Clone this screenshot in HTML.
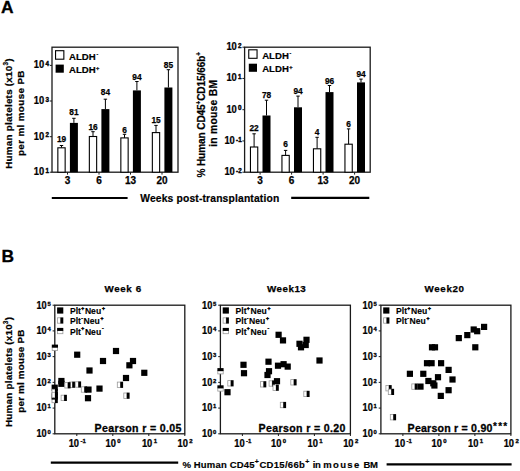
<!DOCTYPE html>
<html><head><meta charset="utf-8"><style>
html,body{margin:0;padding:0;background:#fff;}
svg{display:block;}
text{font-family:"Liberation Sans",sans-serif;font-weight:bold;fill:#000;stroke:#000;}
</style></head><body>
<svg width="520" height="471" viewBox="0 0 520 471">
<rect width="520" height="471" fill="#fff"/>
<text x="1.0" y="13.4" font-size="17.4" stroke-width="0.3">A</text>
<text x="1.6" y="261.8" font-size="17.4" stroke-width="0.3">B</text>
<rect x="52.0" y="47.2" width="126.0" height="124.99999999999999" fill="none" stroke="#1a1a1a" stroke-width="1.3"/>
<line x1="49.8" y1="172.2" x2="52.0" y2="172.2" stroke="#1a1a1a" stroke-width="1.0"/>
<text transform="translate(44.2,175.1) scale(0.9,1)" font-size="10.4" text-anchor="end" stroke-width="0.25">10</text>
<text x="45.5" y="172.79999999999998" font-size="6.3" stroke-width="0.38">1</text>
<line x1="49.8" y1="136.7" x2="52.0" y2="136.7" stroke="#1a1a1a" stroke-width="1.0"/>
<text transform="translate(44.2,139.6) scale(0.9,1)" font-size="10.4" text-anchor="end" stroke-width="0.25">10</text>
<text x="45.5" y="137.29999999999998" font-size="6.3" stroke-width="0.38">2</text>
<line x1="49.8" y1="101.0" x2="52.0" y2="101.0" stroke="#1a1a1a" stroke-width="1.0"/>
<text transform="translate(44.2,103.9) scale(0.9,1)" font-size="10.4" text-anchor="end" stroke-width="0.25">10</text>
<text x="45.5" y="101.6" font-size="6.3" stroke-width="0.38">3</text>
<line x1="49.8" y1="65.4" x2="52.0" y2="65.4" stroke="#1a1a1a" stroke-width="1.0"/>
<text transform="translate(44.2,68.30000000000001) scale(0.9,1)" font-size="10.4" text-anchor="end" stroke-width="0.25">10</text>
<text x="45.5" y="66.0" font-size="6.3" stroke-width="0.38">4</text>
<line x1="67.5" y1="172.2" x2="67.5" y2="174.6" stroke="#1a1a1a" stroke-width="1.0"/>
<text x="67.5" y="184.2" font-size="10.0" text-anchor="middle" stroke-width="0.25">3</text>
<line x1="99.0" y1="172.2" x2="99.0" y2="174.6" stroke="#1a1a1a" stroke-width="1.0"/>
<text x="99.0" y="184.2" font-size="10.0" text-anchor="middle" stroke-width="0.25">6</text>
<line x1="130.5" y1="172.2" x2="130.5" y2="174.6" stroke="#1a1a1a" stroke-width="1.0"/>
<text x="130.5" y="184.2" font-size="10.0" text-anchor="middle" stroke-width="0.25">13</text>
<line x1="162.0" y1="172.2" x2="162.0" y2="174.6" stroke="#1a1a1a" stroke-width="1.0"/>
<text x="162.0" y="184.2" font-size="10.0" text-anchor="middle" stroke-width="0.25">20</text>
<line x1="61.5" y1="145.5" x2="61.5" y2="147.8" stroke="#000" stroke-width="1.0"/>
<line x1="59.8" y1="145.5" x2="63.2" y2="145.5" stroke="#000" stroke-width="1.0"/>
<rect x="57.85" y="147.80" width="7.30" height="24.40" fill="#fff" stroke="#000" stroke-width="1.1"/>
<text x="61.5" y="142.0" font-size="8.3" text-anchor="middle" stroke-width="0.25">19</text>
<line x1="73.9" y1="118.3" x2="73.9" y2="122.9" stroke="#000" stroke-width="1.0"/>
<line x1="72.2" y1="118.3" x2="75.60000000000001" y2="118.3" stroke="#000" stroke-width="1.0"/>
<rect x="69.90" y="122.90" width="8.00" height="49.30" fill="#000"/>
<text x="73.9" y="114.8" font-size="8.3" text-anchor="middle" stroke-width="0.25">81</text>
<line x1="93.0" y1="131.7" x2="93.0" y2="136.5" stroke="#000" stroke-width="1.0"/>
<line x1="91.3" y1="131.7" x2="94.7" y2="131.7" stroke="#000" stroke-width="1.0"/>
<rect x="89.35" y="136.50" width="7.30" height="35.70" fill="#fff" stroke="#000" stroke-width="1.1"/>
<text x="93.0" y="129.5" font-size="8.3" text-anchor="middle" stroke-width="0.25">16</text>
<line x1="105.4" y1="99.2" x2="105.4" y2="109.1" stroke="#000" stroke-width="1.0"/>
<line x1="103.7" y1="99.2" x2="107.10000000000001" y2="99.2" stroke="#000" stroke-width="1.0"/>
<rect x="101.40" y="109.10" width="8.00" height="63.10" fill="#000"/>
<text x="105.4" y="95.2" font-size="8.3" text-anchor="middle" stroke-width="0.25">84</text>
<line x1="124.5" y1="134.3" x2="124.5" y2="137.9" stroke="#000" stroke-width="1.0"/>
<line x1="122.8" y1="134.3" x2="126.2" y2="134.3" stroke="#000" stroke-width="1.0"/>
<rect x="120.85" y="137.90" width="7.30" height="34.30" fill="#fff" stroke="#000" stroke-width="1.1"/>
<text x="124.5" y="133.0" font-size="8.3" text-anchor="middle" stroke-width="0.25">6</text>
<line x1="136.9" y1="81.5" x2="136.9" y2="90.4" stroke="#000" stroke-width="1.0"/>
<line x1="135.20000000000002" y1="81.5" x2="138.6" y2="81.5" stroke="#000" stroke-width="1.0"/>
<rect x="132.90" y="90.40" width="8.00" height="81.80" fill="#000"/>
<text x="136.9" y="79.9" font-size="8.3" text-anchor="middle" stroke-width="0.25">94</text>
<line x1="156.0" y1="125.4" x2="156.0" y2="132.6" stroke="#000" stroke-width="1.0"/>
<line x1="154.3" y1="125.4" x2="157.7" y2="125.4" stroke="#000" stroke-width="1.0"/>
<rect x="152.35" y="132.60" width="7.30" height="39.60" fill="#fff" stroke="#000" stroke-width="1.1"/>
<text x="156.0" y="123.3" font-size="8.3" text-anchor="middle" stroke-width="0.25">15</text>
<line x1="168.4" y1="69.7" x2="168.4" y2="87.5" stroke="#000" stroke-width="1.0"/>
<line x1="166.70000000000002" y1="69.7" x2="170.1" y2="69.7" stroke="#000" stroke-width="1.0"/>
<rect x="164.40" y="87.50" width="8.00" height="84.70" fill="#000"/>
<text x="168.4" y="68.0" font-size="8.3" text-anchor="middle" stroke-width="0.25">85</text>
<rect x="55.55" y="50.70" width="8.3" height="8.5" fill="#fff" stroke="#000" stroke-width="1.1"/>
<rect x="55.60" y="64.60" width="8.20" height="8.10" fill="#000"/>
<text x="69.0" y="59.6" font-size="9.6" stroke-width="0.18">ALDH</text>
<text x="69.0" y="73.2" font-size="9.6" stroke-width="0.18">ALDH</text>
<text x="96.4" y="56.2" font-size="5.2" stroke-width="0.1">-</text>
<text x="96.0" y="69.9" font-size="5.6" stroke-width="0.25">+</text>
<rect x="244.6" y="47.2" width="125.6" height="124.99999999999999" fill="none" stroke="#1a1a1a" stroke-width="1.3"/>
<line x1="242.4" y1="172.2" x2="244.6" y2="172.2" stroke="#1a1a1a" stroke-width="1.0"/>
<text transform="translate(234.79999999999998,175.1) scale(0.9,1)" font-size="10.4" text-anchor="end" stroke-width="0.25">10</text>
<text x="236.1" y="172.79999999999998" font-size="6.3" stroke-width="0.38">-2</text>
<line x1="242.4" y1="140.95" x2="244.6" y2="140.95" stroke="#1a1a1a" stroke-width="1.0"/>
<text transform="translate(234.79999999999998,143.85) scale(0.9,1)" font-size="10.4" text-anchor="end" stroke-width="0.25">10</text>
<text x="236.1" y="141.54999999999998" font-size="6.3" stroke-width="0.38">-1</text>
<line x1="242.4" y1="109.7" x2="244.6" y2="109.7" stroke="#1a1a1a" stroke-width="1.0"/>
<text transform="translate(236.79999999999998,112.60000000000001) scale(0.9,1)" font-size="10.4" text-anchor="end" stroke-width="0.25">10</text>
<text x="238.1" y="110.3" font-size="6.3" stroke-width="0.38">0</text>
<line x1="242.4" y1="78.45" x2="244.6" y2="78.45" stroke="#1a1a1a" stroke-width="1.0"/>
<text transform="translate(236.79999999999998,81.35000000000001) scale(0.9,1)" font-size="10.4" text-anchor="end" stroke-width="0.25">10</text>
<text x="238.1" y="79.05" font-size="6.3" stroke-width="0.38">1</text>
<line x1="242.4" y1="47.2" x2="244.6" y2="47.2" stroke="#1a1a1a" stroke-width="1.0"/>
<text transform="translate(236.79999999999998,50.1) scale(0.9,1)" font-size="10.4" text-anchor="end" stroke-width="0.25">10</text>
<text x="238.1" y="47.800000000000004" font-size="6.3" stroke-width="0.38">2</text>
<line x1="260.1" y1="172.2" x2="260.1" y2="174.6" stroke="#1a1a1a" stroke-width="1.0"/>
<text x="260.1" y="184.2" font-size="10.0" text-anchor="middle" stroke-width="0.25">3</text>
<line x1="291.6" y1="172.2" x2="291.6" y2="174.6" stroke="#1a1a1a" stroke-width="1.0"/>
<text x="291.6" y="184.2" font-size="10.0" text-anchor="middle" stroke-width="0.25">6</text>
<line x1="323.1" y1="172.2" x2="323.1" y2="174.6" stroke="#1a1a1a" stroke-width="1.0"/>
<text x="323.1" y="184.2" font-size="10.0" text-anchor="middle" stroke-width="0.25">13</text>
<line x1="354.6" y1="172.2" x2="354.6" y2="174.6" stroke="#1a1a1a" stroke-width="1.0"/>
<text x="354.6" y="184.2" font-size="10.0" text-anchor="middle" stroke-width="0.25">20</text>
<line x1="254.10000000000002" y1="133.8" x2="254.10000000000002" y2="147" stroke="#000" stroke-width="1.0"/>
<line x1="252.40000000000003" y1="133.8" x2="255.8" y2="133.8" stroke="#000" stroke-width="1.0"/>
<rect x="250.45" y="147.00" width="7.30" height="25.20" fill="#fff" stroke="#000" stroke-width="1.1"/>
<text x="254.10000000000002" y="131.4" font-size="8.3" text-anchor="middle" stroke-width="0.25">22</text>
<line x1="266.5" y1="100.2" x2="266.5" y2="115.5" stroke="#000" stroke-width="1.0"/>
<line x1="264.8" y1="100.2" x2="268.2" y2="100.2" stroke="#000" stroke-width="1.0"/>
<rect x="262.50" y="115.50" width="8.00" height="56.70" fill="#000"/>
<text x="266.5" y="98.3" font-size="8.3" text-anchor="middle" stroke-width="0.25">78</text>
<line x1="285.6" y1="150.4" x2="285.6" y2="155.4" stroke="#000" stroke-width="1.0"/>
<line x1="283.90000000000003" y1="150.4" x2="287.3" y2="150.4" stroke="#000" stroke-width="1.0"/>
<rect x="281.95" y="155.40" width="7.30" height="16.80" fill="#fff" stroke="#000" stroke-width="1.1"/>
<text x="285.6" y="147.3" font-size="8.3" text-anchor="middle" stroke-width="0.25">6</text>
<line x1="298.0" y1="96.1" x2="298.0" y2="107.3" stroke="#000" stroke-width="1.0"/>
<line x1="296.3" y1="96.1" x2="299.7" y2="96.1" stroke="#000" stroke-width="1.0"/>
<rect x="294.00" y="107.30" width="8.00" height="64.90" fill="#000"/>
<text x="298.0" y="93.8" font-size="8.3" text-anchor="middle" stroke-width="0.25">94</text>
<line x1="317.1" y1="137.3" x2="317.1" y2="148.8" stroke="#000" stroke-width="1.0"/>
<line x1="315.40000000000003" y1="137.3" x2="318.8" y2="137.3" stroke="#000" stroke-width="1.0"/>
<rect x="313.45" y="148.80" width="7.30" height="23.40" fill="#fff" stroke="#000" stroke-width="1.1"/>
<text x="317.1" y="134.5" font-size="8.3" text-anchor="middle" stroke-width="0.25">4</text>
<line x1="329.5" y1="85.5" x2="329.5" y2="92.1" stroke="#000" stroke-width="1.0"/>
<line x1="327.8" y1="85.5" x2="331.2" y2="85.5" stroke="#000" stroke-width="1.0"/>
<rect x="325.50" y="92.10" width="8.00" height="80.10" fill="#000"/>
<text x="329.5" y="84.0" font-size="8.3" text-anchor="middle" stroke-width="0.25">96</text>
<line x1="348.6" y1="128.9" x2="348.6" y2="144.2" stroke="#000" stroke-width="1.0"/>
<line x1="346.90000000000003" y1="128.9" x2="350.3" y2="128.9" stroke="#000" stroke-width="1.0"/>
<rect x="344.95" y="144.20" width="7.30" height="28.00" fill="#fff" stroke="#000" stroke-width="1.1"/>
<text x="348.6" y="126.5" font-size="8.3" text-anchor="middle" stroke-width="0.25">6</text>
<line x1="361.0" y1="79.1" x2="361.0" y2="82.4" stroke="#000" stroke-width="1.0"/>
<line x1="359.3" y1="79.1" x2="362.7" y2="79.1" stroke="#000" stroke-width="1.0"/>
<rect x="357.00" y="82.40" width="8.00" height="89.80" fill="#000"/>
<text x="361.0" y="77.1" font-size="8.3" text-anchor="middle" stroke-width="0.25">94</text>
<rect x="248.75" y="49.80" width="8.3" height="8.5" fill="#fff" stroke="#000" stroke-width="1.1"/>
<rect x="248.80" y="63.70" width="8.20" height="8.10" fill="#000"/>
<text x="262.2" y="58.7" font-size="9.6" stroke-width="0.18">ALDH</text>
<text x="262.2" y="72.3" font-size="9.6" stroke-width="0.18">ALDH</text>
<text x="289.59999999999997" y="55.300000000000004" font-size="5.2" stroke-width="0.1">-</text>
<text x="289.2" y="69.0" font-size="5.6" stroke-width="0.25">+</text>
<text transform="translate(11.9,113.6) rotate(-90)" font-size="9.9" text-anchor="middle" textLength="110.5" lengthAdjust="spacing" stroke-width="0.22">Human platelets (x10<tspan font-size="6.5" dy="-4.2">3</tspan><tspan dy="4.2">)</tspan></text>
<text transform="translate(24.2,113.3) rotate(-90)" font-size="9.9" text-anchor="middle" textLength="85.6" lengthAdjust="spacing" stroke-width="0.22">per ml mouse PB</text>
<text transform="translate(204.9,177.6) rotate(-90)" font-size="10.1" text-anchor="start" textLength="125.5" lengthAdjust="spacing" stroke-width="0.22">% Human CD45<tspan font-size="6.3" dy="-4.2">+</tspan><tspan dy="4.2">CD15/66b</tspan><tspan font-size="6.3" dy="-4.2">+</tspan></text>
<text transform="translate(217.1,146.8) rotate(-90)" font-size="10.3" text-anchor="start" textLength="66.8" lengthAdjust="spacing" stroke-width="0.22">in mouse BM</text>
<line x1="51.8" y1="198.0" x2="127.6" y2="198.0" stroke="#000" stroke-width="2.1"/>
<line x1="291.2" y1="197.9" x2="369.3" y2="197.9" stroke="#000" stroke-width="2.1"/>
<text x="140.2" y="201.6" font-size="10.3" textLength="139.0" lengthAdjust="spacing" stroke-width="0.2">Weeks post-transplantation</text>
<rect x="54.8" y="305.2" width="130.00" height="128.60" fill="none" stroke="#1a1a1a" stroke-width="1.3"/>
<line x1="52.599999999999994" y1="433.8" x2="54.8" y2="433.8" stroke="#1a1a1a" stroke-width="1.0"/>
<text transform="translate(46.699999999999996,437.2) scale(0.9,1)" font-size="10.2" text-anchor="end" stroke-width="0.25">10</text>
<text x="47.5" y="434.1" font-size="5.9" stroke-width="0.3">0</text>
<line x1="52.599999999999994" y1="408.08000000000004" x2="54.8" y2="408.08000000000004" stroke="#1a1a1a" stroke-width="1.0"/>
<text transform="translate(46.699999999999996,411.48) scale(0.9,1)" font-size="10.2" text-anchor="end" stroke-width="0.25">10</text>
<text x="47.5" y="408.38000000000005" font-size="5.9" stroke-width="0.3">1</text>
<line x1="52.599999999999994" y1="382.36" x2="54.8" y2="382.36" stroke="#1a1a1a" stroke-width="1.0"/>
<text transform="translate(46.699999999999996,385.76) scale(0.9,1)" font-size="10.2" text-anchor="end" stroke-width="0.25">10</text>
<text x="47.5" y="382.66" font-size="5.9" stroke-width="0.3">2</text>
<line x1="52.599999999999994" y1="356.64" x2="54.8" y2="356.64" stroke="#1a1a1a" stroke-width="1.0"/>
<text transform="translate(46.699999999999996,360.03999999999996) scale(0.9,1)" font-size="10.2" text-anchor="end" stroke-width="0.25">10</text>
<text x="47.5" y="356.94" font-size="5.9" stroke-width="0.3">3</text>
<line x1="52.599999999999994" y1="330.92" x2="54.8" y2="330.92" stroke="#1a1a1a" stroke-width="1.0"/>
<text transform="translate(46.699999999999996,334.32) scale(0.9,1)" font-size="10.2" text-anchor="end" stroke-width="0.25">10</text>
<text x="47.5" y="331.22" font-size="5.9" stroke-width="0.3">4</text>
<line x1="52.599999999999994" y1="305.20000000000005" x2="54.8" y2="305.20000000000005" stroke="#1a1a1a" stroke-width="1.0"/>
<text transform="translate(46.699999999999996,308.6) scale(0.9,1)" font-size="10.2" text-anchor="end" stroke-width="0.25">10</text>
<text x="47.5" y="305.50000000000006" font-size="5.9" stroke-width="0.3">5</text>
<line x1="76.8" y1="433.8" x2="76.8" y2="436.0" stroke="#1a1a1a" stroke-width="1.0"/>
<text transform="translate(79.05,446.9) scale(0.9,1)" font-size="10.4" text-anchor="end" stroke-width="0.25">10</text>
<text x="80.45" y="443.4" font-size="6.0" stroke-width="0.3">-1</text>
<line x1="112.8" y1="433.8" x2="112.8" y2="436.0" stroke="#1a1a1a" stroke-width="1.0"/>
<text transform="translate(115.85,446.9) scale(0.9,1)" font-size="10.4" text-anchor="end" stroke-width="0.25">10</text>
<text x="117.25" y="443.4" font-size="6.0" stroke-width="0.3">0</text>
<line x1="148.8" y1="433.8" x2="148.8" y2="436.0" stroke="#1a1a1a" stroke-width="1.0"/>
<text transform="translate(152.3,446.9) scale(0.9,1)" font-size="10.4" text-anchor="end" stroke-width="0.25">10</text>
<text x="153.70000000000002" y="443.4" font-size="6.0" stroke-width="0.3">1</text>
<line x1="184.8" y1="433.8" x2="184.8" y2="436.0" stroke="#1a1a1a" stroke-width="1.0"/>
<text transform="translate(187.95000000000002,446.9) scale(0.9,1)" font-size="10.4" text-anchor="end" stroke-width="0.25">10</text>
<text x="189.35000000000002" y="443.4" font-size="6.0" stroke-width="0.3">2</text>
<text x="104.6" y="291.5" font-size="9.8" textLength="36.6" lengthAdjust="spacing" stroke-width="0.25">Week 6</text>
<rect x="52.20" y="347.30" width="5.40" height="3.10" fill="#fff" stroke="#999" stroke-width="0.8"/>
<rect x="51.80" y="344.60" width="6.20" height="3.00" fill="#000"/>
<rect x="74.10" y="351.60" width="6.20" height="6.20" fill="#000"/>
<rect x="112.90" y="347.90" width="6.20" height="6.20" fill="#000"/>
<rect x="99.90" y="357.90" width="6.20" height="6.20" fill="#000"/>
<rect x="129.90" y="357.90" width="6.20" height="6.20" fill="#000"/>
<rect x="126.30" y="362.20" width="6.20" height="6.20" fill="#000"/>
<rect x="86.40" y="367.40" width="6.20" height="6.20" fill="#000"/>
<rect x="141.20" y="369.70" width="6.20" height="6.20" fill="#000"/>
<rect x="122.90" y="374.90" width="6.20" height="6.20" fill="#000"/>
<rect x="58.30" y="377.90" width="6.20" height="6.20" fill="#000"/>
<rect x="58.30" y="380.70" width="6.20" height="6.20" fill="#000"/>
<rect x="96.40" y="385.50" width="6.20" height="6.20" fill="#000"/>
<rect x="69.30" y="382.00" width="3.10" height="5.40" fill="#fff" stroke="#999" stroke-width="0.8"/>
<rect x="72.30" y="381.60" width="2.80" height="6.20" fill="#000"/>
<rect x="64.80" y="382.60" width="3.10" height="5.40" fill="#fff" stroke="#999" stroke-width="0.8"/>
<rect x="67.80" y="382.20" width="2.80" height="6.20" fill="#000"/>
<rect x="75.30" y="381.80" width="3.10" height="5.40" fill="#fff" stroke="#999" stroke-width="0.8"/>
<rect x="78.30" y="381.40" width="2.80" height="6.20" fill="#000"/>
<rect x="81.30" y="386.80" width="3.10" height="5.40" fill="#fff" stroke="#999" stroke-width="0.8"/>
<rect x="84.30" y="386.40" width="2.80" height="6.20" fill="#000"/>
<rect x="85.40" y="386.50" width="6.20" height="6.20" fill="#000"/>
<rect x="84.90" y="395.10" width="6.20" height="6.20" fill="#000"/>
<rect x="61.10" y="395.20" width="3.10" height="5.40" fill="#fff" stroke="#999" stroke-width="0.8"/>
<rect x="64.10" y="394.80" width="2.80" height="6.20" fill="#000"/>
<rect x="117.30" y="382.10" width="3.10" height="5.40" fill="#fff" stroke="#999" stroke-width="0.8"/>
<rect x="120.30" y="381.70" width="2.80" height="6.20" fill="#000"/>
<rect x="123.80" y="393.00" width="3.10" height="5.40" fill="#fff" stroke="#999" stroke-width="0.8"/>
<rect x="126.80" y="392.60" width="2.80" height="6.20" fill="#000"/>
<rect x="51.60" y="384.60" width="6.20" height="6.20" fill="#000"/>
<rect x="52.00" y="397.30" width="3.10" height="5.40" fill="#fff" stroke="#999" stroke-width="0.8"/>
<rect x="55.00" y="396.90" width="2.80" height="6.20" fill="#000"/>
<rect x="51.60" y="393.40" width="6.20" height="6.20" fill="#000"/>
<rect x="52.00" y="389.30" width="3.10" height="5.40" fill="#fff" stroke="#999" stroke-width="0.8"/>
<rect x="55.00" y="388.90" width="2.80" height="6.20" fill="#000"/>
<rect x="52.00" y="392.30" width="3.10" height="5.40" fill="#fff" stroke="#999" stroke-width="0.8"/>
<rect x="55.00" y="391.90" width="2.80" height="6.20" fill="#000"/>
<rect x="57.10" y="307.40" width="6.20" height="6.20" fill="#000"/>
<text transform="translate(70.0,314.2) scale(1.0,1)" font-size="8.6" stroke-width="0.12">Plt</text>
<text x="81.2" y="309.9" font-size="5.0" stroke-width="0.4">+</text>
<text transform="translate(84.9,314.2) scale(1.0,1)" font-size="8.6" stroke-width="0.12">Neu</text>
<text x="101.9" y="309.9" font-size="5.0" stroke-width="0.4">+</text>
<rect x="57.50" y="317.80" width="3.10" height="5.40" fill="#fff" stroke="#999" stroke-width="0.8"/>
<rect x="60.50" y="317.40" width="2.80" height="6.20" fill="#000"/>
<text transform="translate(70.0,324.3) scale(1.0,1)" font-size="8.6" stroke-width="0.12">Plt</text>
<text x="81.2" y="320.0" font-size="5.0" stroke-width="0.4">-</text>
<text transform="translate(83.5,324.3) scale(1.0,1)" font-size="8.6" stroke-width="0.12">Neu</text>
<text x="100.5" y="320.0" font-size="5.0" stroke-width="0.4">+</text>
<rect x="57.50" y="330.60" width="5.40" height="3.10" fill="#fff" stroke="#999" stroke-width="0.8"/>
<rect x="57.10" y="327.90" width="6.20" height="3.00" fill="#000"/>
<text transform="translate(70.0,334.7) scale(1.0,1)" font-size="8.6" stroke-width="0.12">Plt</text>
<text x="81.2" y="330.4" font-size="5.0" stroke-width="0.4">+</text>
<text transform="translate(84.9,334.7) scale(1.0,1)" font-size="8.6" stroke-width="0.12">Neu</text>
<text x="101.9" y="330.4" font-size="5.0" stroke-width="0.4">-</text>
<text x="94.6" y="431.9" font-size="10.6" textLength="86.8" lengthAdjust="spacing" stroke-width="0.3">Pearson r = 0.05</text>
<rect x="220.4" y="305.2" width="130.00" height="128.60" fill="none" stroke="#1a1a1a" stroke-width="1.3"/>
<line x1="218.20000000000002" y1="433.8" x2="220.4" y2="433.8" stroke="#1a1a1a" stroke-width="1.0"/>
<text transform="translate(212.3,437.2) scale(0.9,1)" font-size="10.2" text-anchor="end" stroke-width="0.25">10</text>
<text x="213.1" y="434.1" font-size="5.9" stroke-width="0.3">0</text>
<line x1="218.20000000000002" y1="408.08000000000004" x2="220.4" y2="408.08000000000004" stroke="#1a1a1a" stroke-width="1.0"/>
<text transform="translate(212.3,411.48) scale(0.9,1)" font-size="10.2" text-anchor="end" stroke-width="0.25">10</text>
<text x="213.1" y="408.38000000000005" font-size="5.9" stroke-width="0.3">1</text>
<line x1="218.20000000000002" y1="382.36" x2="220.4" y2="382.36" stroke="#1a1a1a" stroke-width="1.0"/>
<text transform="translate(212.3,385.76) scale(0.9,1)" font-size="10.2" text-anchor="end" stroke-width="0.25">10</text>
<text x="213.1" y="382.66" font-size="5.9" stroke-width="0.3">2</text>
<line x1="218.20000000000002" y1="356.64" x2="220.4" y2="356.64" stroke="#1a1a1a" stroke-width="1.0"/>
<text transform="translate(212.3,360.03999999999996) scale(0.9,1)" font-size="10.2" text-anchor="end" stroke-width="0.25">10</text>
<text x="213.1" y="356.94" font-size="5.9" stroke-width="0.3">3</text>
<line x1="218.20000000000002" y1="330.92" x2="220.4" y2="330.92" stroke="#1a1a1a" stroke-width="1.0"/>
<text transform="translate(212.3,334.32) scale(0.9,1)" font-size="10.2" text-anchor="end" stroke-width="0.25">10</text>
<text x="213.1" y="331.22" font-size="5.9" stroke-width="0.3">4</text>
<line x1="218.20000000000002" y1="305.20000000000005" x2="220.4" y2="305.20000000000005" stroke="#1a1a1a" stroke-width="1.0"/>
<text transform="translate(212.3,308.6) scale(0.9,1)" font-size="10.2" text-anchor="end" stroke-width="0.25">10</text>
<text x="213.1" y="305.50000000000006" font-size="5.9" stroke-width="0.3">5</text>
<line x1="242.39999999999998" y1="433.8" x2="242.39999999999998" y2="436.0" stroke="#1a1a1a" stroke-width="1.0"/>
<text transform="translate(244.64999999999998,446.9) scale(0.9,1)" font-size="10.4" text-anchor="end" stroke-width="0.25">10</text>
<text x="246.04999999999998" y="443.4" font-size="6.0" stroke-width="0.3">-1</text>
<line x1="278.4" y1="433.8" x2="278.4" y2="436.0" stroke="#1a1a1a" stroke-width="1.0"/>
<text transform="translate(281.45,446.9) scale(0.9,1)" font-size="10.4" text-anchor="end" stroke-width="0.25">10</text>
<text x="282.84999999999997" y="443.4" font-size="6.0" stroke-width="0.3">0</text>
<line x1="314.4" y1="433.8" x2="314.4" y2="436.0" stroke="#1a1a1a" stroke-width="1.0"/>
<text transform="translate(317.9,446.9) scale(0.9,1)" font-size="10.4" text-anchor="end" stroke-width="0.25">10</text>
<text x="319.29999999999995" y="443.4" font-size="6.0" stroke-width="0.3">1</text>
<line x1="350.4" y1="433.8" x2="350.4" y2="436.0" stroke="#1a1a1a" stroke-width="1.0"/>
<text transform="translate(353.55,446.9) scale(0.9,1)" font-size="10.4" text-anchor="end" stroke-width="0.25">10</text>
<text x="354.95" y="443.4" font-size="6.0" stroke-width="0.3">2</text>
<text x="267.0" y="291.5" font-size="9.8" textLength="38.8" lengthAdjust="spacing" stroke-width="0.25">Week13</text>
<rect x="217.80" y="370.80" width="5.40" height="3.10" fill="#fff" stroke="#999" stroke-width="0.8"/>
<rect x="217.40" y="368.10" width="6.20" height="3.00" fill="#000"/>
<rect x="217.80" y="388.00" width="5.40" height="3.10" fill="#fff" stroke="#999" stroke-width="0.8"/>
<rect x="217.40" y="385.30" width="6.20" height="3.00" fill="#000"/>
<rect x="240.40" y="361.70" width="6.20" height="6.20" fill="#000"/>
<rect x="240.90" y="370.10" width="6.20" height="6.20" fill="#000"/>
<rect x="224.40" y="389.10" width="6.20" height="6.20" fill="#000"/>
<rect x="265.40" y="358.60" width="6.20" height="6.20" fill="#000"/>
<rect x="265.90" y="368.10" width="6.20" height="6.20" fill="#000"/>
<rect x="264.40" y="371.90" width="6.20" height="6.20" fill="#000"/>
<rect x="274.90" y="362.60" width="6.20" height="6.20" fill="#000"/>
<rect x="280.50" y="361.10" width="6.20" height="6.20" fill="#000"/>
<rect x="284.60" y="363.50" width="6.20" height="6.20" fill="#000"/>
<rect x="275.50" y="331.70" width="6.20" height="6.20" fill="#000"/>
<rect x="279.90" y="337.30" width="6.20" height="6.20" fill="#000"/>
<rect x="296.40" y="340.70" width="6.20" height="6.20" fill="#000"/>
<rect x="303.40" y="336.70" width="6.20" height="6.20" fill="#000"/>
<rect x="302.60" y="341.90" width="6.20" height="6.20" fill="#000"/>
<rect x="297.90" y="344.20" width="6.20" height="6.20" fill="#000"/>
<rect x="316.40" y="357.40" width="6.20" height="6.20" fill="#000"/>
<rect x="227.80" y="380.60" width="3.10" height="5.40" fill="#fff" stroke="#999" stroke-width="0.8"/>
<rect x="230.80" y="380.20" width="2.80" height="6.20" fill="#000"/>
<rect x="260.50" y="381.60" width="3.10" height="5.40" fill="#fff" stroke="#999" stroke-width="0.8"/>
<rect x="263.50" y="381.20" width="2.80" height="6.20" fill="#000"/>
<rect x="269.10" y="380.80" width="3.10" height="5.40" fill="#fff" stroke="#999" stroke-width="0.8"/>
<rect x="272.10" y="380.40" width="2.80" height="6.20" fill="#000"/>
<rect x="273.90" y="378.10" width="6.20" height="6.20" fill="#000"/>
<rect x="273.00" y="385.00" width="3.10" height="5.40" fill="#fff" stroke="#999" stroke-width="0.8"/>
<rect x="276.00" y="384.60" width="2.80" height="6.20" fill="#000"/>
<rect x="290.80" y="379.60" width="3.10" height="5.40" fill="#fff" stroke="#999" stroke-width="0.8"/>
<rect x="293.80" y="379.20" width="2.80" height="6.20" fill="#000"/>
<rect x="303.80" y="391.20" width="3.10" height="5.40" fill="#fff" stroke="#999" stroke-width="0.8"/>
<rect x="306.80" y="390.80" width="2.80" height="6.20" fill="#000"/>
<rect x="280.30" y="402.30" width="3.10" height="5.40" fill="#fff" stroke="#999" stroke-width="0.8"/>
<rect x="283.30" y="401.90" width="2.80" height="6.20" fill="#000"/>
<rect x="222.70" y="307.40" width="6.20" height="6.20" fill="#000"/>
<text transform="translate(235.6,314.2) scale(1.0,1)" font-size="8.6" stroke-width="0.12">Plt</text>
<text x="246.79999999999998" y="309.9" font-size="5.0" stroke-width="0.4">+</text>
<text transform="translate(250.49999999999997,314.2) scale(1.0,1)" font-size="8.6" stroke-width="0.12">Neu</text>
<text x="267.5" y="309.9" font-size="5.0" stroke-width="0.4">+</text>
<rect x="223.10" y="317.80" width="3.10" height="5.40" fill="#fff" stroke="#999" stroke-width="0.8"/>
<rect x="226.10" y="317.40" width="2.80" height="6.20" fill="#000"/>
<text transform="translate(235.6,324.3) scale(1.0,1)" font-size="8.6" stroke-width="0.12">Plt</text>
<text x="246.79999999999998" y="320.0" font-size="5.0" stroke-width="0.4">-</text>
<text transform="translate(249.1,324.3) scale(1.0,1)" font-size="8.6" stroke-width="0.12">Neu</text>
<text x="266.1" y="320.0" font-size="5.0" stroke-width="0.4">+</text>
<rect x="223.10" y="330.60" width="5.40" height="3.10" fill="#fff" stroke="#999" stroke-width="0.8"/>
<rect x="222.70" y="327.90" width="6.20" height="3.00" fill="#000"/>
<text transform="translate(235.6,334.7) scale(1.0,1)" font-size="8.6" stroke-width="0.12">Plt</text>
<text x="246.79999999999998" y="330.4" font-size="5.0" stroke-width="0.4">+</text>
<text transform="translate(250.49999999999997,334.7) scale(1.0,1)" font-size="8.6" stroke-width="0.12">Neu</text>
<text x="267.5" y="330.4" font-size="5.0" stroke-width="0.4">-</text>
<text x="258.6" y="431.9" font-size="10.6" textLength="86.8" lengthAdjust="spacing" stroke-width="0.3">Pearson r = 0.20</text>
<rect x="380.9" y="305.2" width="130.00" height="128.60" fill="none" stroke="#1a1a1a" stroke-width="1.3"/>
<line x1="378.7" y1="433.8" x2="380.9" y2="433.8" stroke="#1a1a1a" stroke-width="1.0"/>
<text transform="translate(372.79999999999995,437.2) scale(0.9,1)" font-size="10.2" text-anchor="end" stroke-width="0.25">10</text>
<text x="373.59999999999997" y="434.1" font-size="5.9" stroke-width="0.3">0</text>
<line x1="378.7" y1="408.08000000000004" x2="380.9" y2="408.08000000000004" stroke="#1a1a1a" stroke-width="1.0"/>
<text transform="translate(372.79999999999995,411.48) scale(0.9,1)" font-size="10.2" text-anchor="end" stroke-width="0.25">10</text>
<text x="373.59999999999997" y="408.38000000000005" font-size="5.9" stroke-width="0.3">1</text>
<line x1="378.7" y1="382.36" x2="380.9" y2="382.36" stroke="#1a1a1a" stroke-width="1.0"/>
<text transform="translate(372.79999999999995,385.76) scale(0.9,1)" font-size="10.2" text-anchor="end" stroke-width="0.25">10</text>
<text x="373.59999999999997" y="382.66" font-size="5.9" stroke-width="0.3">2</text>
<line x1="378.7" y1="356.64" x2="380.9" y2="356.64" stroke="#1a1a1a" stroke-width="1.0"/>
<text transform="translate(372.79999999999995,360.03999999999996) scale(0.9,1)" font-size="10.2" text-anchor="end" stroke-width="0.25">10</text>
<text x="373.59999999999997" y="356.94" font-size="5.9" stroke-width="0.3">3</text>
<line x1="378.7" y1="330.92" x2="380.9" y2="330.92" stroke="#1a1a1a" stroke-width="1.0"/>
<text transform="translate(372.79999999999995,334.32) scale(0.9,1)" font-size="10.2" text-anchor="end" stroke-width="0.25">10</text>
<text x="373.59999999999997" y="331.22" font-size="5.9" stroke-width="0.3">4</text>
<line x1="378.7" y1="305.20000000000005" x2="380.9" y2="305.20000000000005" stroke="#1a1a1a" stroke-width="1.0"/>
<text transform="translate(372.79999999999995,308.6) scale(0.9,1)" font-size="10.2" text-anchor="end" stroke-width="0.25">10</text>
<text x="373.59999999999997" y="305.50000000000006" font-size="5.9" stroke-width="0.3">5</text>
<line x1="402.9" y1="433.8" x2="402.9" y2="436.0" stroke="#1a1a1a" stroke-width="1.0"/>
<text transform="translate(405.15,446.9) scale(0.9,1)" font-size="10.4" text-anchor="end" stroke-width="0.25">10</text>
<text x="406.54999999999995" y="443.4" font-size="6.0" stroke-width="0.3">-1</text>
<line x1="438.9" y1="433.8" x2="438.9" y2="436.0" stroke="#1a1a1a" stroke-width="1.0"/>
<text transform="translate(441.95,446.9) scale(0.9,1)" font-size="10.4" text-anchor="end" stroke-width="0.25">10</text>
<text x="443.34999999999997" y="443.4" font-size="6.0" stroke-width="0.3">0</text>
<line x1="474.9" y1="433.8" x2="474.9" y2="436.0" stroke="#1a1a1a" stroke-width="1.0"/>
<text transform="translate(478.4,446.9) scale(0.9,1)" font-size="10.4" text-anchor="end" stroke-width="0.25">10</text>
<text x="479.79999999999995" y="443.4" font-size="6.0" stroke-width="0.3">1</text>
<line x1="510.9" y1="433.8" x2="510.9" y2="436.0" stroke="#1a1a1a" stroke-width="1.0"/>
<text transform="translate(514.05,446.9) scale(0.9,1)" font-size="10.4" text-anchor="end" stroke-width="0.25">10</text>
<text x="515.4499999999999" y="443.4" font-size="6.0" stroke-width="0.3">2</text>
<text x="424.6" y="291.5" font-size="9.8" textLength="39.4" lengthAdjust="spacing" stroke-width="0.25">Week20</text>
<rect x="428.90" y="344.20" width="6.20" height="6.20" fill="#000"/>
<rect x="431.90" y="344.20" width="6.20" height="6.20" fill="#000"/>
<rect x="423.90" y="360.10" width="6.20" height="6.20" fill="#000"/>
<rect x="428.50" y="360.10" width="6.20" height="6.20" fill="#000"/>
<rect x="438.00" y="360.10" width="6.20" height="6.20" fill="#000"/>
<rect x="406.80" y="370.70" width="6.20" height="6.20" fill="#000"/>
<rect x="420.20" y="370.70" width="6.20" height="6.20" fill="#000"/>
<rect x="434.90" y="374.10" width="6.20" height="6.20" fill="#000"/>
<rect x="425.30" y="377.90" width="6.20" height="6.20" fill="#000"/>
<rect x="430.20" y="380.20" width="6.20" height="6.20" fill="#000"/>
<rect x="431.30" y="382.40" width="6.20" height="6.20" fill="#000"/>
<rect x="411.80" y="383.90" width="3.10" height="5.40" fill="#fff" stroke="#999" stroke-width="0.8"/>
<rect x="414.80" y="383.50" width="2.80" height="6.20" fill="#000"/>
<rect x="417.40" y="383.50" width="6.20" height="6.20" fill="#000"/>
<rect x="445.50" y="366.80" width="6.20" height="6.20" fill="#000"/>
<rect x="449.40" y="376.40" width="6.20" height="6.20" fill="#000"/>
<rect x="445.50" y="387.10" width="6.20" height="6.20" fill="#000"/>
<rect x="437.70" y="392.80" width="6.20" height="6.20" fill="#000"/>
<rect x="455.70" y="335.00" width="6.20" height="6.20" fill="#000"/>
<rect x="464.20" y="332.00" width="6.20" height="6.20" fill="#000"/>
<rect x="470.60" y="326.40" width="6.20" height="6.20" fill="#000"/>
<rect x="474.10" y="328.10" width="6.20" height="6.20" fill="#000"/>
<rect x="481.00" y="323.80" width="6.20" height="6.20" fill="#000"/>
<rect x="472.20" y="344.20" width="6.20" height="6.20" fill="#000"/>
<rect x="385.90" y="385.50" width="3.10" height="5.40" fill="#fff" stroke="#999" stroke-width="0.8"/>
<rect x="388.90" y="385.10" width="2.80" height="6.20" fill="#000"/>
<rect x="388.30" y="389.20" width="3.10" height="5.40" fill="#fff" stroke="#999" stroke-width="0.8"/>
<rect x="391.30" y="388.80" width="2.80" height="6.20" fill="#000"/>
<rect x="390.30" y="414.50" width="3.10" height="5.40" fill="#fff" stroke="#999" stroke-width="0.8"/>
<rect x="393.30" y="414.10" width="2.80" height="6.20" fill="#000"/>
<rect x="383.20" y="307.40" width="6.20" height="6.20" fill="#000"/>
<text transform="translate(396.09999999999997,314.2) scale(1.0,1)" font-size="8.6" stroke-width="0.12">Plt</text>
<text x="407.29999999999995" y="309.9" font-size="5.0" stroke-width="0.4">+</text>
<text transform="translate(410.99999999999994,314.2) scale(1.0,1)" font-size="8.6" stroke-width="0.12">Neu</text>
<text x="427.99999999999994" y="309.9" font-size="5.0" stroke-width="0.4">+</text>
<rect x="383.60" y="317.80" width="3.10" height="5.40" fill="#fff" stroke="#999" stroke-width="0.8"/>
<rect x="386.60" y="317.40" width="2.80" height="6.20" fill="#000"/>
<text transform="translate(396.09999999999997,324.3) scale(1.0,1)" font-size="8.6" stroke-width="0.12">Plt</text>
<text x="407.29999999999995" y="320.0" font-size="5.0" stroke-width="0.4">-</text>
<text transform="translate(409.59999999999997,324.3) scale(1.0,1)" font-size="8.6" stroke-width="0.12">Neu</text>
<text x="426.59999999999997" y="320.0" font-size="5.0" stroke-width="0.4">+</text>
<text x="407.6" y="431.9" font-size="10.6" textLength="84.8" lengthAdjust="spacing" stroke-width="0.3">Pearson r = 0.90</text>
<text x="493.0" y="430.0" font-size="10.0" textLength="14.2" lengthAdjust="spacing" stroke-width="0.2">***</text>
<text transform="translate(11.9,372) rotate(-90)" font-size="9.9" text-anchor="middle" textLength="110.0" lengthAdjust="spacing" stroke-width="0.22">Human platelets (x10<tspan font-size="6.5" dy="-4.2">3</tspan><tspan dy="4.2">)</tspan></text>
<text transform="translate(24.2,371.2) rotate(-90)" font-size="9.9" text-anchor="middle" textLength="83.0" lengthAdjust="spacing" stroke-width="0.22">per ml mouse PB</text>
<line x1="50.8" y1="462.6" x2="178.2" y2="462.6" stroke="#000" stroke-width="2.1"/>
<line x1="386.6" y1="464.4" x2="511.6" y2="464.4" stroke="#000" stroke-width="2.1"/>
<text x="182.5" y="468.2" font-size="9.6" stroke-width="0.15">%</text>
<text x="193.8" y="468.2" font-size="9.5" textLength="33.0" lengthAdjust="spacing" stroke-width="0.15">Human</text>
<text x="229.8" y="468.2" font-size="9.5" textLength="24.8" lengthAdjust="spacing" stroke-width="0.15">CD45</text>
<text x="254.8" y="463.9" font-size="7.0" stroke-width="0.15">+</text>
<text x="259.4" y="468.2" font-size="9.5" textLength="45.4" lengthAdjust="spacing" stroke-width="0.15">CD15/66b</text>
<text x="305.2" y="463.9" font-size="7.0" stroke-width="0.15">+</text>
<text x="312.8" y="468.2" font-size="9.5" textLength="8.0" lengthAdjust="spacing" stroke-width="0.15">in</text>
<text x="323.2" y="468.2" font-size="9.5" textLength="36.0" lengthAdjust="spacing" stroke-width="0.15">mouse</text>
<text x="363.6" y="468.2" font-size="9.5" textLength="14.2" lengthAdjust="spacing" stroke-width="0.15">BM</text>
</svg>
</body></html>
